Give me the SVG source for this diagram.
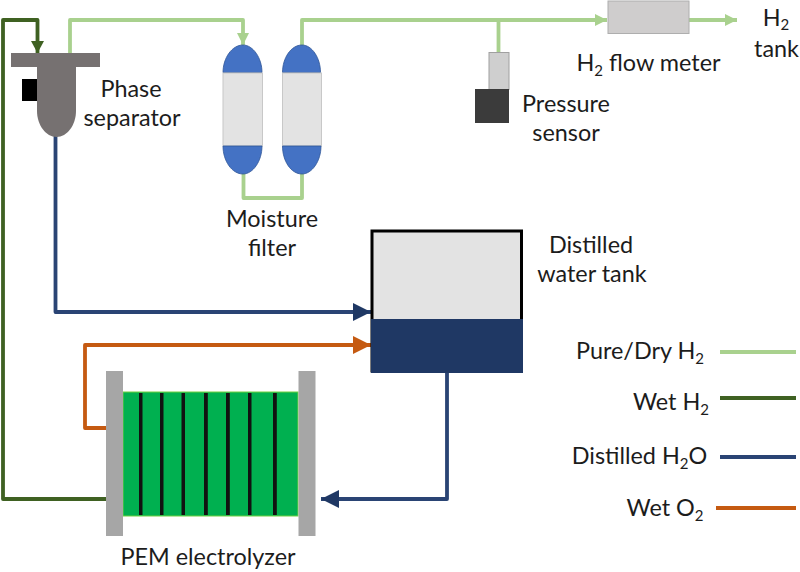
<svg xmlns="http://www.w3.org/2000/svg" width="800" height="572" viewBox="0 0 800 572">
<style>
text{font-family:Lato,"Open Sans","Liberation Sans",sans-serif;font-size:23.400px;fill:#1c1c1c;text-anchor:middle}
.sub{font-size:15px}
.c{fill:none;stroke-width:3.800;stroke-linejoin:round}
.lg{stroke:#a9d18e}.dg{stroke:#3f6122}.bl{stroke:#2a4474}.or{stroke:#c55a11}
.cap{fill:#4472c4;stroke:#2f5597;stroke-width:.8}
.body{fill:#e3e3e3;stroke:#c8c8c8;stroke-width:1}
.plate{fill:#a6a6a6}
.mem{fill:#111}
</style>
<defs>
<marker id="aLg" markerUnits="userSpaceOnUse" markerWidth="14" markerHeight="14" refX="12" refY="6" orient="auto"><path d="M0 0L12 6L0 12Z" fill="#a9d18e"/></marker>
<marker id="aDg" markerUnits="userSpaceOnUse" markerWidth="14" markerHeight="14" refX="12" refY="6.500" orient="auto"><path d="M0 0L12 6.500L0 13Z" fill="#3f6122"/></marker>
<marker id="aBl" markerUnits="userSpaceOnUse" markerWidth="20" markerHeight="20" refX="18" refY="9" orient="auto"><path d="M0 0L18 9L0 18Z" fill="#1f3864"/></marker>
<marker id="aOr" markerUnits="userSpaceOnUse" markerWidth="20" markerHeight="20" refX="18" refY="9" orient="auto"><path d="M0 0L18 9L0 18Z" fill="#c55a11"/></marker>
</defs>
<rect width="800" height="572" fill="#fff"/>
<g id="connectors">
<path class="c lg" d="M70 53V20H243V45" marker-end="url(#aLg)"/>
<path class="c lg" d="M302 46V20H607" marker-end="url(#aLg)"/>
<path class="c lg" d="M689 20H737" marker-end="url(#aLg)"/>
<path class="c lg" d="M498.500 20V53"/>
<path class="c lg" d="M243.500 173V198H302V173"/>
<path class="c dg" d="M106 499H3V20H37.500V53" marker-end="url(#aDg)"/>
<path class="c bl" d="M55.500 136V312H371" marker-end="url(#aBl)"/>
<path class="c or" d="M106 428H85V345H371" marker-end="url(#aOr)"/>
<path class="c bl" d="M447 372V499H321" marker-end="url(#aBl)"/>
</g>
<g id="phase-separator">
<rect x="22" y="79" width="15" height="22" fill="#000"/>
<path d="M37 60H76V111C76 125 67 137 56.500 137C46 137 37 125 37 111Z" fill="#767171"/>
<rect x="11" y="53" width="89" height="14" fill="#767171"/>
<text x="131" y="97">Phase</text>
<text x="132" y="126">separator</text>
</g>
<g id="moisture-filter">
<path class="cap" d="M223 72.500C223 58 232 45 243 45C253 45 262 58 262 72.500Z"/>
<rect class="body" x="223" y="73" width="39.500" height="73"/>
<path class="cap" d="M223 146C223 161 232 174 243 174C253 174 262 161 262 146Z"/>
<path class="cap" d="M282.500 72.500C282.500 58 291 45 302 45C312 45 320.500 58 320.500 72.500Z"/>
<rect class="body" x="282.500" y="73" width="39" height="73"/>
<path class="cap" d="M282.500 146C282.500 161 291 174 302 174C312 174 321 161 321 146Z"/>
<text x="272" y="227">Moisture</text>
<text x="272" y="256">filter</text>
</g>
<g id="pressure-sensor">
<rect x="489" y="52.500" width="20" height="37" fill="#cfcfcf" stroke="#a0a0a0"/>
<rect x="475" y="89" width="34" height="34" fill="#3b3b3b"/>
<text x="566" y="112">Pressure</text>
<text x="566" y="141">sensor</text>
</g>
<g id="flow-meter">
<rect x="608" y="1" width="81" height="32.500" fill="#cfcdcd" stroke="#aeaeae"/>
<text x="648.500" y="71">H<tspan class="sub" dy="5">2</tspan><tspan dy="-5"> flow meter</tspan></text>
</g>
<g id="h2-tank">
<text x="776" y="26">H<tspan class="sub" dy="4">2</tspan></text>
<text x="776.500" y="57">tank</text>
</g>
<g id="water-tank">
<rect x="372" y="231" width="149.500" height="140" fill="#e3e3e3" stroke="#000" stroke-width="3"/>
<rect x="371" y="319" width="152" height="54" fill="#1f3864"/>
<text x="591" y="253">Distilled</text>
<text x="592" y="282">water tank</text>
</g>
<g id="pem-electrolyzer">
<rect x="123" y="392" width="175" height="124" fill="#00b050" stroke="#70d040" stroke-width="1"/>
<rect class="mem" x="139" y="393" width="3.500" height="122"/>
<rect class="mem" x="160" y="393" width="3.500" height="122"/>
<rect class="mem" x="181.500" y="393" width="3.500" height="122"/>
<rect class="mem" x="204" y="393" width="3.800" height="122"/>
<rect class="mem" x="226" y="393" width="3.800" height="122"/>
<rect class="mem" x="248" y="393" width="3.500" height="122"/>
<rect class="mem" x="273" y="393" width="3.800" height="122"/>
<rect class="plate" x="106" y="371" width="17" height="165"/>
<rect class="plate" x="298.500" y="371" width="17" height="165"/>
<text x="208" y="565">PEM electrolyzer</text>
</g>
<g id="legend">
<text x="640" y="359">Pure/Dry H<tspan class="sub" dy="5">2</tspan></text>
<path class="c lg" d="M720 352H796"/>
<text x="671" y="410">Wet H<tspan class="sub" dy="5">2</tspan></text>
<path class="c dg" d="M720 398H796"/>
<text x="639.500" y="464">Distilled H<tspan class="sub" dy="5">2</tspan><tspan dy="-5">O</tspan></text>
<path class="c bl" d="M720 457H796"/>
<text x="665" y="516">Wet O<tspan class="sub" dy="5">2</tspan></text>
<path class="c or" d="M716 508H796"/>
</g>
</svg>
